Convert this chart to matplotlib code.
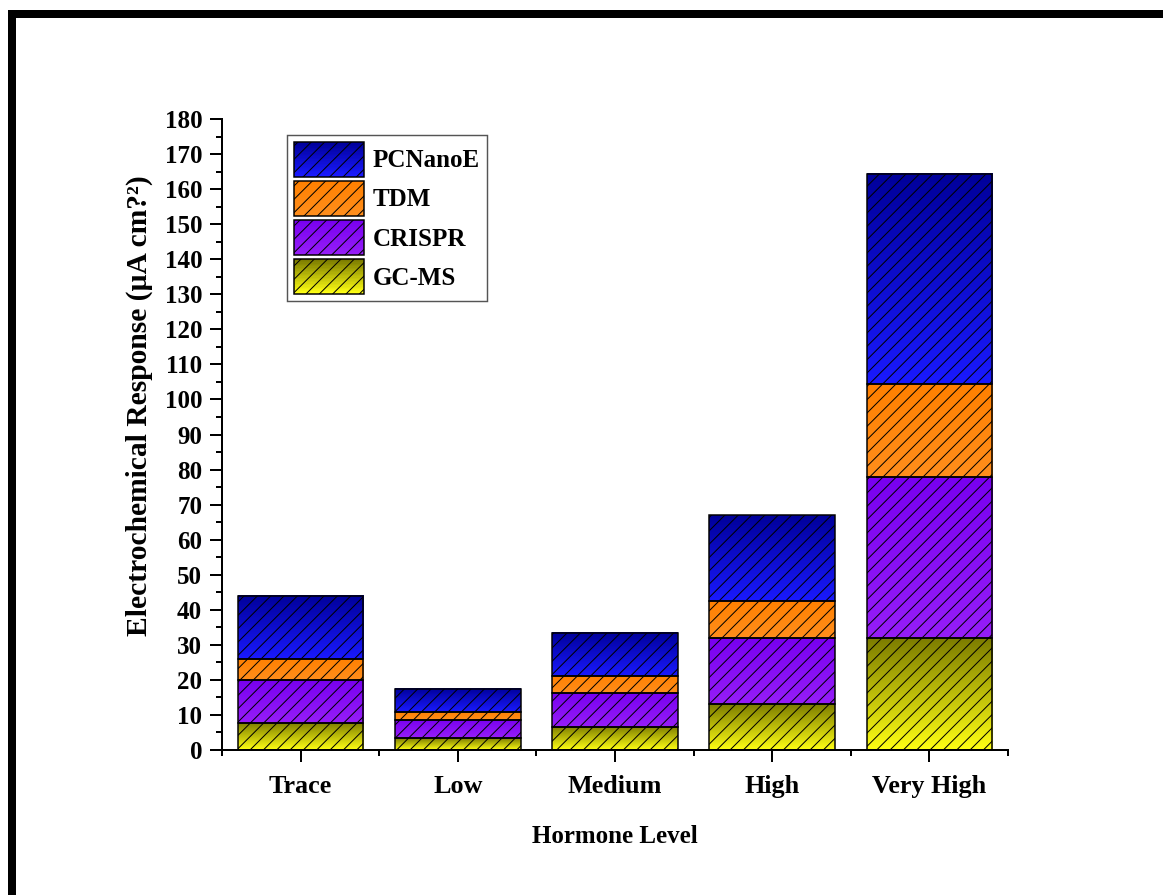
import numpy as np
import matplotlib
matplotlib.use("Agg")
import matplotlib.pyplot as plt
from matplotlib.colors import LinearSegmentedColormap, to_rgb
from matplotlib.patches import Rectangle, Patch
from matplotlib.legend_handler import HandlerBase

# data
levels = ["Trace", "Low", "Medium", "High", "Very High"]
gcms = [7.8, 3.3, 6.7, 13.1, 31.9]
crispr = [12.1, 5.2, 9.5, 18.8, 46.0]
tdm = [6.0, 2.3, 5.0, 10.6, 26.5]
pcnanoe = [18.1, 6.7, 12.3, 24.5, 60.0]

series_names = ["GC-MS", "CRISPR", "TDM", "PCNanoE"]
series_vals = [gcms, crispr, tdm, pcnanoe]
# (bottom colour, top colour) of each gradient
grads = [("#ffff14", "#7c7c00"),
         ("#961ef8", "#7800f0"),
         ("#ff8e1c", "#ff8000"),
         ("#1a1aff", "#00009a")]

plt.rcParams['font.family'] = ['Liberation Serif', 'DejaVu Serif']
plt.rcParams['font.weight'] = 'bold'
plt.rcParams['hatch.linewidth'] = 0.9

DPI = 80
fig = plt.figure(figsize=(1163 / DPI, 895 / DPI), dpi=DPI)
ax = fig.add_axes([222 / 1163, 145 / 895, 786 / 1163, 631 / 895])

# thick frame round the picture (runs off the right and bottom)
fig.patches.append(Rectangle((12 / 1163, -0.2), 1.5, 1.2 - 14 / 895,
                             transform=fig.transFigure, fill=False,
                             edgecolor='black', lw=7.2, clip_on=False))

x = np.arange(len(levels))
width = 0.8
grad_img = np.linspace(0, 1, 256).reshape(-1, 1)

bottom = np.zeros(len(levels))
for name, vals, (cb, ct) in zip(series_names, series_vals, grads):
    vals = np.array(vals)
    cmap = LinearSegmentedColormap.from_list(name, [cb, ct])
    for xi, b, v in zip(x, bottom, vals):
        ax.imshow(grad_img, extent=(xi - width / 2, xi + width / 2, b, b + v),
                  origin='lower', cmap=cmap, aspect='auto', zorder=1,
                  interpolation='bilinear')
    ax.bar(x, vals, width, bottom=bottom, facecolor='none', edgecolor='black',
           hatch='//', lw=1.35, zorder=2)
    bottom += vals


class GradHandler(HandlerBase):
    def __init__(self, cb, ct):
        super().__init__()
        self.cb = np.array(to_rgb(cb))
        self.ct = np.array(to_rgb(ct))

    def create_artists(self, legend, orig_handle, xdescent, ydescent,
                       width, height, fontsize, trans):
        arts = []
        n = 24
        for i in range(n):
            f = i / (n - 1)
            c = self.cb * (1 - f) + self.ct * f
            arts.append(Rectangle((-xdescent, -ydescent + height * i / n), width,
                                  height / n * 1.05, facecolor=c, edgecolor='none',
                                  transform=trans))
        arts.append(Rectangle((-xdescent, -ydescent), width, height,
                              facecolor='none', edgecolor='black', hatch='//',
                              lw=1.35, transform=trans))
        return arts


handles = [Patch(label=n) for n in series_names]
hmap = {h: GradHandler(*g) for h, g in zip(handles, grads)}
leg = ax.legend(handles[::-1], series_names[::-1], handler_map=hmap,
                loc='upper left', bbox_to_anchor=(0.0827, 0.9746),
                borderaxespad=0, fontsize=22.5, handlelength=2.8,
                handleheight=1.75, labelspacing=0.18, handletextpad=0.36,
                borderpad=0.28, fancybox=False, framealpha=1)
leg.get_frame().set_edgecolor('#555555')
leg.get_frame().set_linewidth(1.3)

ax.set_xlim(-0.5, 4.5)
ax.set_ylim(0, 180)
ax.set_xticks(x)
ax.set_xticklabels(levels)
ax.set_xticks(np.arange(-0.5, 5, 1), minor=True)
ax.set_yticks(np.arange(0, 181, 10))
ax.set_yticks(np.arange(5, 180, 10), minor=True)

for s in ['top', 'right']:
    ax.spines[s].set_visible(False)
for s in ['left', 'bottom']:
    ax.spines[s].set_linewidth(1.8)

ax.tick_params(axis='both', which='major', direction='out', length=10.8,
               width=1.8, labelsize=22.5, pad=7)
ax.tick_params(axis='x', which='major', labelsize=23.5, pad=12)
ax.tick_params(axis='both', which='minor', direction='out', length=5.4, width=1.8)

ax.set_xlabel("Hormone Level", fontsize=22.5, fontweight='bold', labelpad=24)
ax.set_ylabel("Electrochemical Response (µA cm?²)", fontsize=26.5,
              fontweight='bold')
ax.yaxis.set_label_coords(-0.088, 0.545)

fig.savefig("out.png", dpi=DPI)
